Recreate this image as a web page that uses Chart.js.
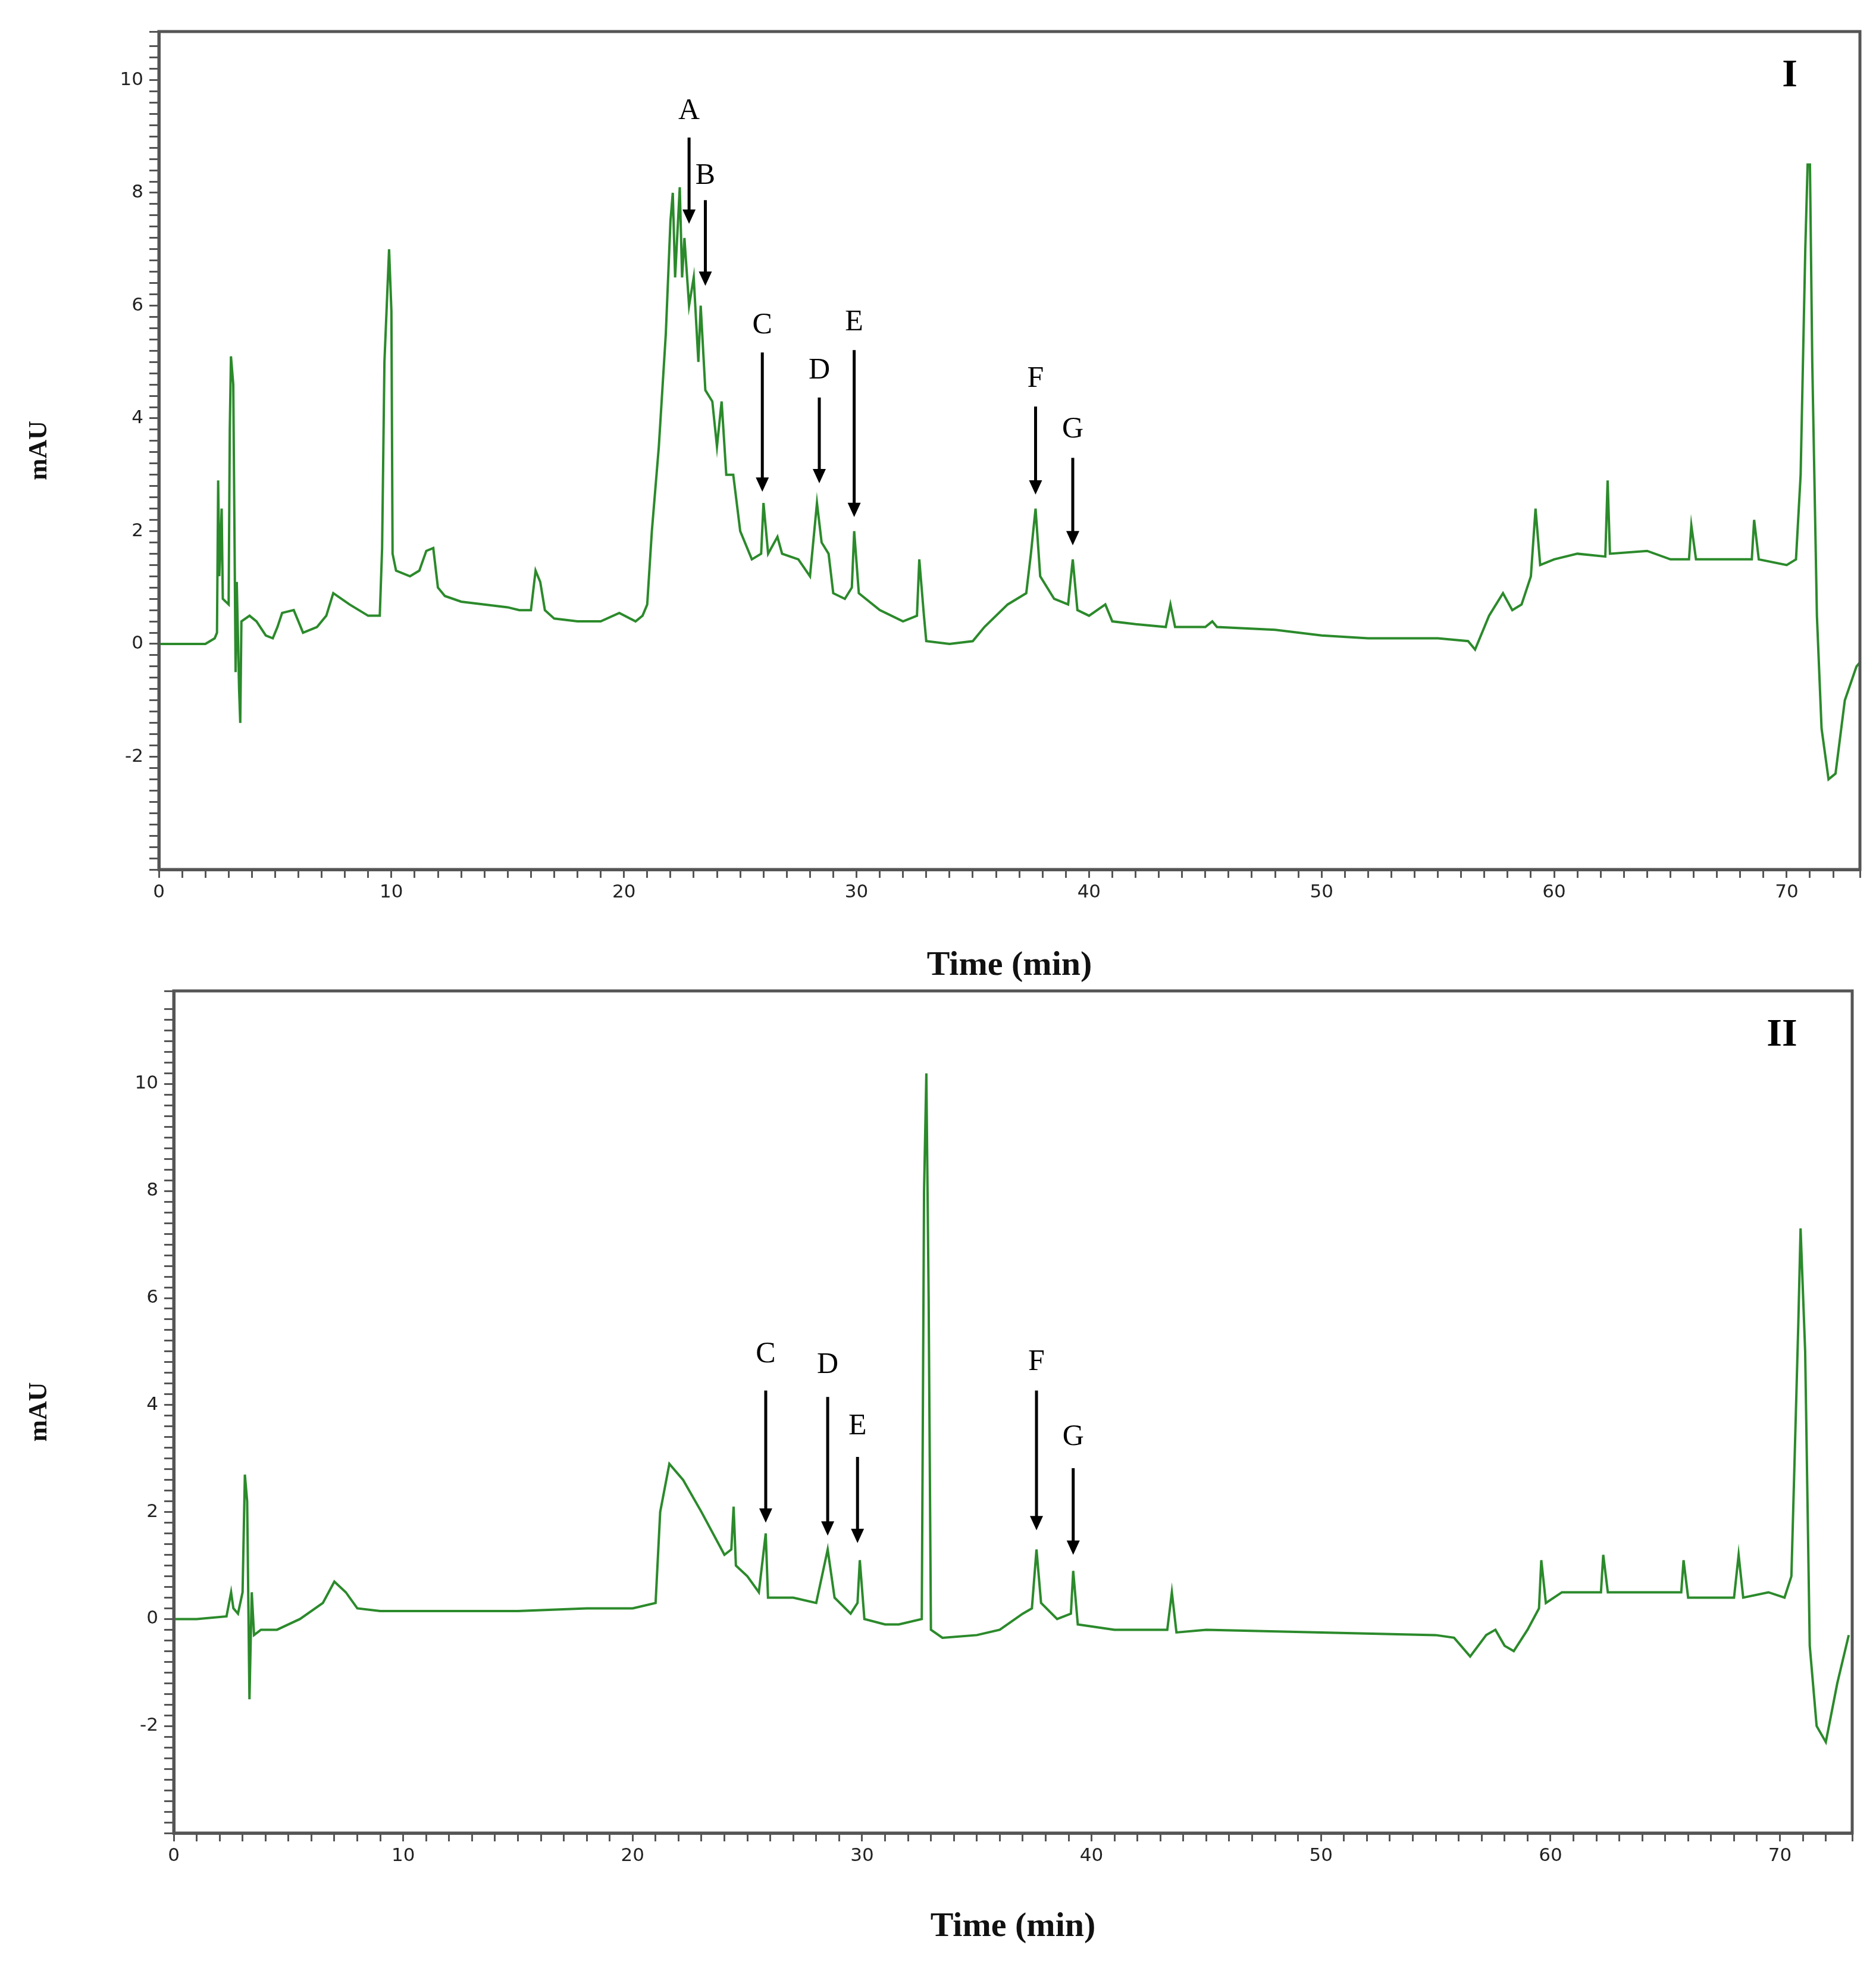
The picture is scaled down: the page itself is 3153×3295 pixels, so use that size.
<!DOCTYPE html>
<html>
<head>
<meta charset="UTF-8">
<script src="https://cdn.jsdelivr.net/npm/chart.js"></script>
<style>
  body { margin: 0; background: #fff; width: 3153px; height: 3295px; position: relative; }
  .panel { position: absolute; left: 0; width: 3153px; }
</style>
</head>
<body>
<div class="panel" style="top:0;height:1690px"><canvas id="c1"></canvas></div>
<div class="panel" style="top:1612px;height:1683px"><canvas id="c2"></canvas></div>
<script>
// Chromatogram I (time min, mAU)
const timeI = [0,1,2,2.4,2.5,2.55,2.6,2.7,2.75,3.0,3.05,3.1,3.2,3.3,3.35,3.45,3.5,3.55,3.9,4.2,4.6,4.9,5.1,5.3,5.8,6.0,6.2,6.8,7.2,7.5,8.2,9.0,9.5,9.6,9.7,9.8,9.9,10.0,10.05,10.2,10.8,11.2,11.5,11.8,12.0,12.3,13,14,15,15.5,16.0,16.2,16.4,16.6,17,18,19,19.8,20.5,20.8,21.0,21.2,21.5,21.8,22.0,22.1,22.2,22.4,22.5,22.6,22.8,23.0,23.2,23.3,23.5,23.8,24.0,24.2,24.4,24.7,25.0,25.5,25.9,26.0,26.2,26.6,26.8,27.5,28.0,28.3,28.5,28.8,29.0,29.5,29.8,29.9,30.1,31,32,32.6,32.7,32.9,33.0,34,35,35.5,36.5,37.3,37.5,37.7,37.9,38.5,39.1,39.3,39.5,40,40.7,41,42,43.3,43.5,43.7,45,45.3,45.5,48,50,52,55,56.3,56.6,57.2,57.8,58.2,58.6,59.0,59.2,59.4,60,61,62.2,62.3,62.4,64,65,65.8,65.9,66.1,67,68.5,68.6,68.8,70,70.4,70.6,70.8,70.9,71.0,71.1,71.3,71.5,71.8,72.1,72.5,73.0,73.2];
const mauI = [0,0,0,0.1,0.2,2.9,1.2,2.4,0.8,0.7,3.8,5.1,4.6,-0.5,1.1,-0.8,-1.4,0.4,0.5,0.4,0.15,0.1,0.3,0.55,0.6,0.4,0.2,0.3,0.5,0.9,0.7,0.5,0.5,1.7,5.0,6.0,7.0,5.9,1.6,1.3,1.2,1.3,1.65,1.7,1.0,0.85,0.75,0.7,0.65,0.6,0.6,1.3,1.1,0.6,0.45,0.4,0.4,0.55,0.4,0.5,0.7,2.0,3.5,5.5,7.5,8.0,6.5,8.1,6.5,7.2,6.0,6.5,5.0,6.0,4.5,4.3,3.5,4.3,3.0,3.0,2.0,1.5,1.6,2.5,1.6,1.9,1.6,1.5,1.2,2.5,1.8,1.6,0.9,0.8,1.0,2.0,0.9,0.6,0.4,0.5,1.5,0.5,0.05,0,0.05,0.3,0.7,0.9,1.6,2.4,1.2,0.8,0.7,1.5,0.6,0.5,0.7,0.4,0.35,0.3,0.7,0.3,0.3,0.4,0.3,0.25,0.15,0.1,0.1,0.05,-0.1,0.5,0.9,0.6,0.7,1.2,2.4,1.4,1.5,1.6,1.55,2.9,1.6,1.65,1.5,1.5,2.1,1.5,1.5,1.5,2.2,1.5,1.4,1.5,3.0,7.0,8.5,8.5,5.0,0.5,-1.5,-2.4,-2.3,-1.0,-0.4,-0.3];

// Chromatogram II
const timeII = [0,1,2.3,2.5,2.6,2.8,3.0,3.1,3.2,3.3,3.4,3.5,3.8,4.5,5,5.5,6.5,7,7.5,8,9,12,15,18,20,21,21.2,21.6,22.2,23,24,24.3,24.4,24.5,25,25.5,25.8,25.9,27,28,28.5,28.8,29.5,29.8,29.9,30.1,31,31.6,32.6,32.7,32.8,32.9,33.0,33.5,35,36,37,37.4,37.6,37.8,38.5,39.1,39.2,39.4,41,43.3,43.5,43.7,45,50,55,55.8,56.5,57.2,57.6,58.0,58.4,59,59.5,59.6,59.8,60.5,62.2,62.3,62.5,65.7,65.8,66,68,68.2,68.4,69.5,70.2,70.5,70.8,70.9,71.1,71.3,71.6,72.0,72.5,73.0];
const mauII = [0,0,0.05,0.5,0.2,0.1,0.5,2.7,2.2,-1.5,0.5,-0.3,-0.2,-0.2,-0.1,0,0.3,0.7,0.5,0.2,0.15,0.15,0.15,0.2,0.2,0.3,2.0,2.9,2.6,2.0,1.2,1.3,2.1,1.0,0.8,0.5,1.6,0.4,0.4,0.3,1.3,0.4,0.1,0.3,1.1,0,-0.1,-0.1,0,8.0,10.2,6.0,-0.2,-0.35,-0.3,-0.2,0.1,0.2,1.3,0.3,0,0.1,0.9,-0.1,-0.2,-0.2,0.5,-0.25,-0.2,-0.25,-0.3,-0.35,-0.7,-0.3,-0.2,-0.5,-0.6,-0.2,0.2,1.1,0.3,0.5,0.5,1.2,0.5,0.5,1.1,0.4,0.4,1.2,0.4,0.5,0.4,0.8,5.5,7.3,5.0,-0.5,-2.0,-2.3,-1.2,-0.3];

// peak markers: label, time, text level, arrow start, arrow end (mAU)
const peaksI = ['A','B','C','D','E','F','G'];
const peakTimeI = [22.8,23.5,25.95,28.4,29.9,37.7,39.3];
const peakTextI = [9.45,8.3,5.65,4.85,5.7,4.7,3.8];
const peakFromI = [8.98,7.87,5.17,4.37,5.21,4.21,3.3];
const peakToI = [7.45,6.35,2.7,2.85,2.25,2.65,1.75];

const peaksII = ['C','D','E','F','G'];
const peakTimeII = [25.8,28.5,29.8,37.6,39.2];
const peakTextII = [4.95,4.75,3.6,4.8,3.4];
const peakFromII = [4.27,4.15,3.03,4.27,2.82];
const peakToII = [1.8,1.56,1.42,1.66,1.2];

const green = '#2b8a2b';

function pts(xs, ys) { return xs.map((x, i) => ({ x: x, y: ys[i] })); }

const framePlugin = {
  id: 'frame',
  afterDraw(chart) {
    const a = chart.chartArea, ctx = chart.ctx;
    ctx.save();
    ctx.strokeStyle = '#555';
    ctx.lineWidth = 5;
    ctx.strokeRect(a.left, a.top, a.right - a.left, a.bottom - a.top);
    ctx.restore();
  }
};

function markerPlugin(names, t, txt, from, to, roman) {
  return {
    id: 'markers',
    afterDatasetsDraw(chart) {
      const ctx = chart.ctx, xs = chart.scales.x, ys = chart.scales.y;
      ctx.save();
      ctx.fillStyle = '#000';
      ctx.strokeStyle = '#000';
      ctx.lineWidth = 5;
      ctx.textAlign = 'center';
      ctx.textBaseline = 'middle';
      ctx.font = '50px "Liberation Serif"';
      names.forEach((n, i) => {
        const x = xs.getPixelForValue(t[i]);
        ctx.fillText(n, x, ys.getPixelForValue(txt[i]));
        const y1 = ys.getPixelForValue(from[i]), y2 = ys.getPixelForValue(to[i]);
        ctx.beginPath();
        ctx.moveTo(x, y1);
        ctx.lineTo(x, y2 - 20);
        ctx.stroke();
        ctx.beginPath();
        ctx.moveTo(x - 11, y2 - 24);
        ctx.lineTo(x + 11, y2 - 24);
        ctx.lineTo(x, y2);
        ctx.closePath();
        ctx.fill();
      });
      ctx.font = 'bold 66px "Liberation Serif"';
      ctx.fillText(roman, chart.chartArea.right - 118, chart.chartArea.top + 75);
      ctx.restore();
    }
  };
}

function makeChart(id, data, yMax, pad, yWidth, xHeight, titleBottom, plug) {
  new Chart(document.getElementById(id), {
    type: 'line',
    data: { datasets: [{ data: data, borderColor: green, borderWidth: 4, pointRadius: 0, tension: 0 }] },
    options: {
      responsive: true,
      maintainAspectRatio: false,
      animation: false,
      layout: { padding: pad },
      plugins: { legend: { display: false }, tooltip: { enabled: false } },
      scales: {
        x: {
          type: 'linear', min: 0, max: 73.15,
          border: { color: '#555', width: 5 },
          grid: { drawOnChartArea: false, tickLength: 14, color: '#555', lineWidth: 3 },
          ticks: {
            stepSize: 1, autoSkip: false, maxRotation: 0, padding: 6,
            color: '#222', font: { family: 'DejaVu Sans', size: 31 },
            callback: v => (v % 10 === 0 ? String(v) : '')
          },
          title: { display: true, text: 'Time (min)', color: '#111', padding: { top: 4, bottom: titleBottom },
                   font: { family: 'Liberation Serif', size: 58, weight: 'bold' } },
          afterFit(s) { s.height = xHeight; }
        },
        y: {
          min: -4, max: yMax,
          border: { color: '#555', width: 5 },
          grid: { drawOnChartArea: false, tickLength: 16, color: '#555', lineWidth: 3 },
          ticks: {
            stepSize: 0.2, autoSkip: false, padding: 10,
            color: '#222', font: { family: 'DejaVu Sans', size: 31 },
            callback: v => { const r = Math.round(v * 10) / 10; return (r % 2 === 0 && r > -4) ? String(r) : ''; }
          },
          title: { display: true, text: 'mAU', color: '#111', padding: { top: 40, bottom: 4 },
                   font: { family: 'Liberation Serif', size: 44, weight: 'bold' } },
          afterFit(s) { s.width = yWidth; }
        }
      }
    },
    plugins: [framePlugin, plug]
  });
}

makeChart('c1', pts(timeI, mauI), 10.86, { top: 53, right: 27, left: 0, bottom: 0 }, 267, 229, 32,
  markerPlugin(peaksI, peakTimeI, peakTextI, peakFromI, peakToI, 'I'));
makeChart('c2', pts(timeII, mauII), 11.74, { top: 53, right: 40, left: 0, bottom: 0 }, 292, 215, 22,
  markerPlugin(peaksII, peakTimeII, peakTextII, peakFromII, peakToII, 'II'));
</script>
</body>
</html>
